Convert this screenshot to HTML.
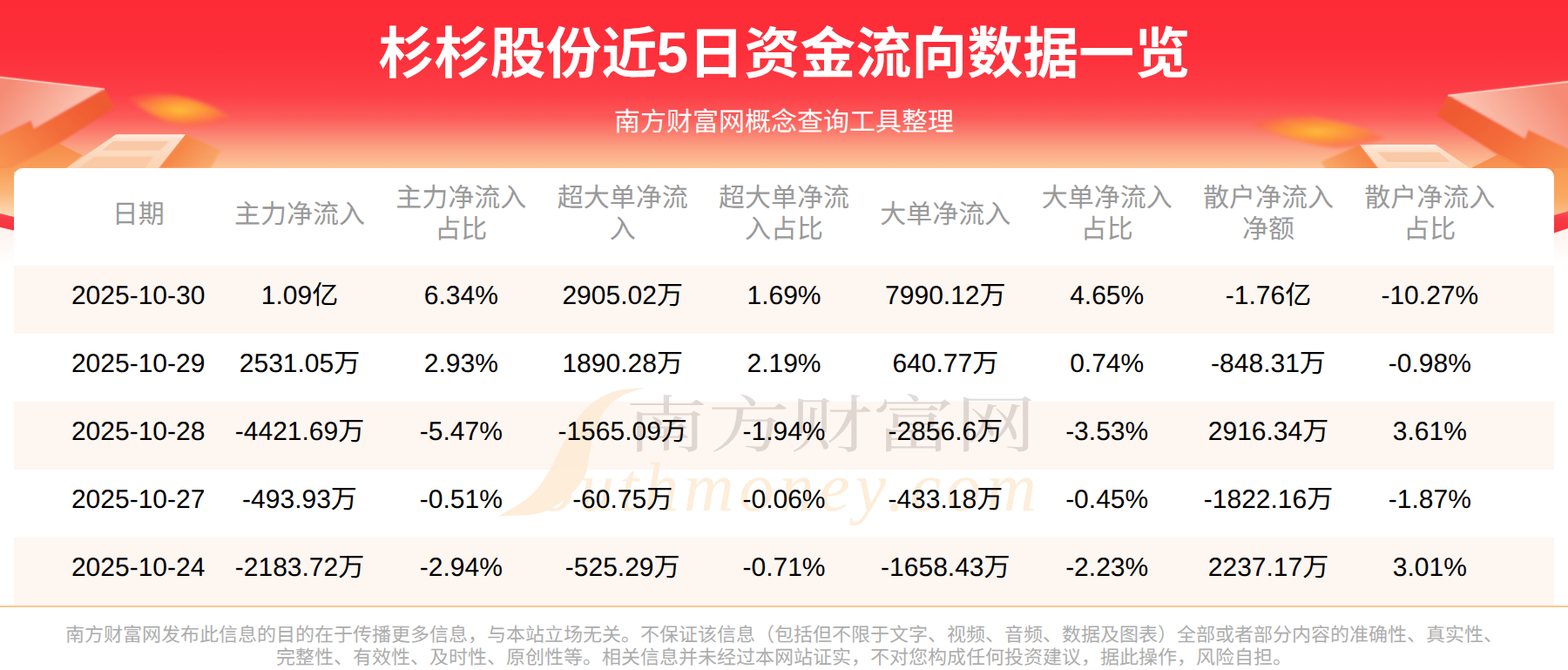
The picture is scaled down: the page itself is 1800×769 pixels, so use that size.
<!DOCTYPE html>
<html lang="zh-CN">
<head>
<meta charset="utf-8">
<title>杉杉股份近5日资金流向数据一览</title>
<style>
*{box-sizing:border-box}
html,body{margin:0;padding:0}
body{width:1800px;height:769px;position:relative;overflow:hidden;background:#fff;font-family:"Liberation Sans","Noto Sans CJK SC",sans-serif;color:#000;text-rendering:geometricPrecision;-webkit-font-smoothing:antialiased}
.n5{display:inline-block;width:35.6px;text-align:center;font-weight:bold;font-size:66px;line-height:1;position:relative;top:-1.3px;left:-.6px;text-indent:-.6px}
.banner{position:absolute;left:0;top:0;width:1800px;height:320px;display:block}
.title{position:absolute;left:.4px;top:12.3px;width:1800px;margin:0;text-align:center;font-size:64px;font-weight:bold;line-height:100px;height:100px;color:#fff;white-space:nowrap;font-family:"Liberation Sans","Noto Sans CJK SC",sans-serif}
.sub{position:absolute;left:0;top:116px;width:1800px;text-align:center;font-size:30px;line-height:50px;height:50px;color:#fff;white-space:nowrap}
.card{position:absolute;left:16px;top:193px;width:1768px;height:502px;background:#fff;border-radius:10px 10px 0 0;overflow:hidden}
.tr{position:absolute;left:0;width:1768px;height:78px}
.hr{position:absolute;left:0;top:0;width:1768px;height:112px}
.r0{top:112px}.r1{top:190px}.r2{top:268px}.r3{top:346px}.r4{top:424px}
.st{position:absolute;left:0;width:1768px;height:78px;background:#fef6f1}
.th,.td{position:absolute;width:185.333px;text-align:center;white-space:nowrap;font-size:30px}
.th{color:#999;line-height:36px}
.th.l1{top:36.4px}
.th.l2{top:17px}
.td{top:0;height:78px;line-height:69.6px;color:#000}
.c0{left:50px}.c1{left:235.333px}.c2{left:420.667px}.c3{left:606px}.c4{left:791.333px}.c5{left:976.667px}.c6{left:1162px}.c7{left:1347.333px}.c8{left:1532.667px}
.wm{position:absolute;left:0;top:0;width:1768px;height:502px;pointer-events:none}
.rule{position:absolute;left:0;top:695px;width:1800px;height:2px;background:#fcc78f}
.foot{position:absolute;left:0;top:716px;width:1800px;text-align:center;font-size:22px;line-height:26px;color:#adadad}
.foot p{margin:0;white-space:nowrap}
</style>
</head>
<body>

<svg class="banner" viewBox="0 0 1800 320" aria-hidden="true">
<defs>
<linearGradient id="bg" gradientUnits="userSpaceOnUse" x1="0" y1="0" x2="0" y2="320">
<stop offset="0" stop-color="#fd2b36"/>
<stop offset=".19" stop-color="#fd2f3a"/>
<stop offset=".34" stop-color="#fc3f47"/>
<stop offset=".42" stop-color="#fc5a58"/>
<stop offset=".47" stop-color="#fb7a6c"/>
<stop offset=".53" stop-color="#fba283"/>
<stop offset=".603" stop-color="#fcc698"/>
<stop offset=".72" stop-color="#fdd3a8"/>
<stop offset=".8" stop-color="#fdf0ea"/>
<stop offset=".95" stop-color="#ffffff"/>
</linearGradient>
<linearGradient id="gA" gradientUnits="userSpaceOnUse" x1="10" y1="95" x2="80" y2="150">
<stop offset="0" stop-color="#f58a74"/><stop offset="1" stop-color="#fbc6b3"/>
</linearGradient>
<linearGradient id="gB" gradientUnits="userSpaceOnUse" x1="100" y1="110" x2="20" y2="200">
<stop offset="0" stop-color="#f05a31"/><stop offset=".45" stop-color="#f36c3a"/><stop offset="1" stop-color="#f7924f"/>
</linearGradient>
<linearGradient id="gC" gradientUnits="userSpaceOnUse" x1="0" y1="165" x2="0" y2="240">
<stop offset="0" stop-color="#f68a49"/><stop offset=".5" stop-color="#f9a760"/><stop offset="1" stop-color="#fdd5a6"/>
</linearGradient>
<linearGradient id="gD" gradientUnits="userSpaceOnUse" x1="0" y1="154" x2="0" y2="193">
<stop offset="0" stop-color="#fff1e6"/><stop offset=".15" stop-color="#fde0cb"/><stop offset="1" stop-color="#fbd3b2"/>
</linearGradient>
<linearGradient id="gE" gradientUnits="userSpaceOnUse" x1="215" y1="160" x2="250" y2="190">
<stop offset="0" stop-color="#f58746"/><stop offset="1" stop-color="#f9a461" stop-opacity=".7"/>
</linearGradient>
<linearGradient id="gR" gradientUnits="userSpaceOnUse" x1="0" y1="243" x2="0" y2="267">
<stop offset="0" stop-color="#f9505a"/><stop offset=".35" stop-color="#f63a44"/><stop offset="1" stop-color="#f5333e"/>
</linearGradient>
<linearGradient id="gS" gradientUnits="userSpaceOnUse" x1="0" y1="193" x2="0" y2="248">
<stop offset="0" stop-color="#f89c56"/><stop offset=".5" stop-color="#fab678"/><stop offset="1" stop-color="#fcdcb9"/>
</linearGradient>
<linearGradient id="gS2" gradientUnits="userSpaceOnUse" x1="0" y1="193" x2="0" y2="250">
<stop offset="0" stop-color="#f89a52"/><stop offset=".6" stop-color="#f9a960"/><stop offset="1" stop-color="#fbc494"/>
</linearGradient>
<radialGradient id="coin" cx=".5" cy=".5" r=".5">
<stop offset="0" stop-color="#ffc03a"/><stop offset=".4" stop-color="#fd9c34"/><stop offset=".8" stop-color="#fb7a40" stop-opacity=".9"/><stop offset="1" stop-color="#fb6545" stop-opacity=".55"/>
</radialGradient>
<filter id="b1" x="-20%" y="-20%" width="140%" height="140%"><feGaussianBlur stdDeviation="0.8"/></filter>
<filter id="b2" x="-20%" y="-30%" width="140%" height="160%"><feGaussianBlur stdDeviation="2.2"/></filter>
<filter id="b3" x="-20%" y="-20%" width="140%" height="140%"><feGaussianBlur stdDeviation="3"/></filter>
<g id="art">
<polygon points="67.6,164.7 94.7,178.2 76,193 76,197 -10,197 -10,202" fill="url(#gC)"/>
<polygon points="120,102.1 131.9,123.3 67.6,164.7 -10,205 -10,158 35.5,138.5 38.9,147.8" fill="url(#gB)" filter="url(#b1)"/>
<polygon points="-10,86.6 120,102.1 38.9,147.8 35.5,138.5 -10,160" fill="url(#gA)" filter="url(#b1)"/>
<polygon points="212.9,154.2 253.5,172.1 242.1,193 182,193" fill="url(#gE)" filter="url(#b1)"/>
<polygon points="133.2,154.2 212.9,154.2 182,193 76.4,193" fill="url(#gD)"/>
<polygon points="129.7,162 194.5,162 183.5,172.4 117.5,172.4" fill="#f8c29c" opacity=".75"/>
<polygon points="107.7,179.7 176.1,179.7 166.4,193 90.6,193" fill="#f9c6a2" opacity=".75"/>
<polyline points="-10,87.6 120,102.6" fill="none" stroke="#fcd3c6" stroke-width="2" opacity=".8"/>
</g>
</defs>
<rect width="1800" height="320" fill="url(#bg)"/>
<use href="#art"/>
<use href="#art" transform="translate(1793,-2) scale(-1.09,1.09)"/>
<g filter="url(#b2)">
<path d="M147.8,113.7 C165,106 185,106 196.7,108.3 C225,113 250,124 266.9,135.9 C250,142 230,146 214.4,144.8 C190,141 165,128 147.8,113.7Z" fill="url(#coin)"/>
<path d="M160,118L215,141M185,112L245,138M215,113L262,134" stroke="#ff8c74" stroke-width="2" opacity=".3" fill="none"/>
</g>
<g filter="url(#b2)" opacity=".95">
<path d="M1435.6,142.8 C1458,134 1480,131 1497.8,132.2 C1535,137 1570,148 1591,157.8 C1572,166 1550,171 1531,170 C1497,165 1460,153 1435.6,142.8Z" fill="url(#coin)"/>
<path d="M1450,146L1530,167M1475,138L1565,162M1505,134L1588,156" stroke="#ff977c" stroke-width="2" opacity=".28" fill="none"/>
</g>
<rect x="0" y="193" width="16" height="57" fill="url(#gS)"/>
<rect x="1784" y="193" width="16" height="58" fill="url(#gS2)"/>
<polygon points="0,245 16,249 16,264.6 0,260.7" fill="url(#gR)"/>
<polygon points="1784,247 1800,242.5 1800,262 1784,267.5" fill="url(#gR)"/>
</svg>

<h1 class="title">杉杉股份近<span class="n5">5</span>日资金流向数据一览</h1>
<div class="sub">南方财富网概念查询工具整理</div>

<div class="card" role="table" aria-label="杉杉股份近5日资金流向">
<div class="st r0"></div><div class="st r2"></div><div class="st r4"></div>
<svg class="wm" viewBox="0 0 1768 502" aria-hidden="true">
<path d="M724.5,252.3 C719.1,252.8 701.8,253.1 692.3,255.5 C682.8,257.9 675.0,261.6 667.6,266.7 C660.2,271.8 654.0,278.2 647.8,286.4 C641.6,294.6 635.9,306.2 630.5,316.1 C625.1,326.0 621.9,335.9 615.7,345.8 C609.5,355.7 603.3,366.4 593.4,375.4 C583.5,384.3 562.6,395.5 556.4,399.5 C564.6,398.8 592.2,399.2 605.8,395.2 C619.4,391.2 629.7,382.4 637.9,375.4 C646.1,368.4 651.5,360.6 655.2,353.2 C658.9,345.8 658.6,338.7 660.2,330.9 C661.9,323.1 662.2,314.8 665.1,306.2 C668.0,297.6 672.1,286.4 677.5,279.0 C682.9,271.6 689.5,266.1 697.3,261.7 C705.1,257.2 720.0,253.9 724.5,252.3Z" fill="#fdead2" opacity=".85"/>
<text transform="translate(702,319.5) scale(1.3235,1)" x="0" y="0" font-family="'Liberation Serif','Noto Serif CJK SC',serif" font-size="71.4" fill="#a89a93" opacity=".34">南方财富网</text>
<text x="603" y="392.5" font-family="'Liberation Serif',serif" font-style="italic" font-size="80" letter-spacing="5.9" fill="#fdedd9">outhmoney.com</text>
</svg>
<div class="hr" role="row">
<div class="th c0 l1" role="columnheader">日期</div>
<div class="th c1 l1" role="columnheader">主力净流入</div>
<div class="th c2 l2" role="columnheader">主力净流入<br>占比</div>
<div class="th c3 l2" role="columnheader">超大单净流<br>入</div>
<div class="th c4 l2" role="columnheader">超大单净流<br>入占比</div>
<div class="th c5 l1" role="columnheader">大单净流入</div>
<div class="th c6 l2" role="columnheader">大单净流入<br>占比</div>
<div class="th c7 l2" role="columnheader">散户净流入<br>净额</div>
<div class="th c8 l2" role="columnheader">散户净流入<br>占比</div>
</div>
<div class="tr r0" role="row">
<div class="td c0" role="cell">2025-10-30</div>
<div class="td c1" role="cell">1.09亿</div>
<div class="td c2" role="cell">6.34%</div>
<div class="td c3" role="cell">2905.02万</div>
<div class="td c4" role="cell">1.69%</div>
<div class="td c5" role="cell">7990.12万</div>
<div class="td c6" role="cell">4.65%</div>
<div class="td c7" role="cell">-1.76亿</div>
<div class="td c8" role="cell">-10.27%</div>
</div>
<div class="tr r1" role="row">
<div class="td c0" role="cell">2025-10-29</div>
<div class="td c1" role="cell">2531.05万</div>
<div class="td c2" role="cell">2.93%</div>
<div class="td c3" role="cell">1890.28万</div>
<div class="td c4" role="cell">2.19%</div>
<div class="td c5" role="cell">640.77万</div>
<div class="td c6" role="cell">0.74%</div>
<div class="td c7" role="cell">-848.31万</div>
<div class="td c8" role="cell">-0.98%</div>
</div>
<div class="tr r2" role="row">
<div class="td c0" role="cell">2025-10-28</div>
<div class="td c1" role="cell">-4421.69万</div>
<div class="td c2" role="cell">-5.47%</div>
<div class="td c3" role="cell">-1565.09万</div>
<div class="td c4" role="cell">-1.94%</div>
<div class="td c5" role="cell">-2856.6万</div>
<div class="td c6" role="cell">-3.53%</div>
<div class="td c7" role="cell">2916.34万</div>
<div class="td c8" role="cell">3.61%</div>
</div>
<div class="tr r3" role="row">
<div class="td c0" role="cell">2025-10-27</div>
<div class="td c1" role="cell">-493.93万</div>
<div class="td c2" role="cell">-0.51%</div>
<div class="td c3" role="cell">-60.75万</div>
<div class="td c4" role="cell">-0.06%</div>
<div class="td c5" role="cell">-433.18万</div>
<div class="td c6" role="cell">-0.45%</div>
<div class="td c7" role="cell">-1822.16万</div>
<div class="td c8" role="cell">-1.87%</div>
</div>
<div class="tr r4" role="row">
<div class="td c0" role="cell">2025-10-24</div>
<div class="td c1" role="cell">-2183.72万</div>
<div class="td c2" role="cell">-2.94%</div>
<div class="td c3" role="cell">-525.29万</div>
<div class="td c4" role="cell">-0.71%</div>
<div class="td c5" role="cell">-1658.43万</div>
<div class="td c6" role="cell">-2.23%</div>
<div class="td c7" role="cell">2237.17万</div>
<div class="td c8" role="cell">3.01%</div>
</div>
</div>

<div class="rule"></div>
<div class="foot">
<p>南方财富网发布此信息的目的在于传播更多信息，与本站立场无关。不保证该信息（包括但不限于文字、视频、音频、数据及图表）全部或者部分内容的准确性、真实性、</p>
<p>完整性、有效性、及时性、原创性等。相关信息并未经过本网站证实，不对您构成任何投资建议，据此操作，风险自担。</p>
</div>
</body>
</html>
